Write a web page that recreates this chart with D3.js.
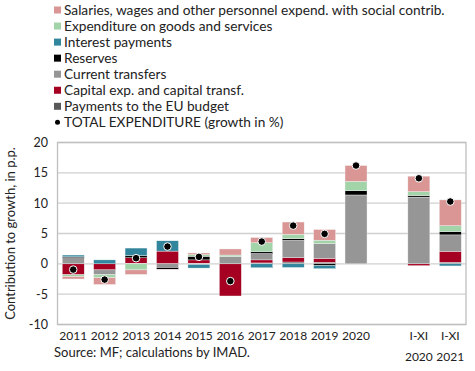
<!DOCTYPE html>
<html>
<head>
<meta charset="utf-8">
<script src="https://cdn.jsdelivr.net/npm/d3@7"></script>
<style>
  body { margin: 0; background: #fff; }
  svg { display: block; font-family: Lato, "Open Sans", sans-serif; }
</style>
</head>
<body>
<svg id="chart" width="475" height="371"></svg>
<script>
// data (contributions to growth, p.p.)
const categories = ["2011", "2012", "2013", "2014", "2015", "2016", "2017", "2018", "2019", "2020", "I-XI|2020", "I-XI|2021"];
const euBudget   = [0, 0, 0.1, 0, 0.1, 0, 0.15, 0.3, 0.25, 0, 0, 0.27];
const capital    = [-1.8, -1.0, 0.9, 2.1, 0.55, -5.3, 0.5, 0.72, 0.65, 0, -0.3, 1.8];
const transfers  = [1.0, -0.8, 0, -0.6, -0.1, 1.2, 1.05, 2.85, 2.45, 11.35, 11.0, 2.7];
const reserves   = [0.15, 0, 0.35, -0.3, 0.6, 0, 0.28, 0.27, -0.3, 0.7, 0.25, 0.52];
const interest   = [0.3, 0.65, 1.25, 1.7, -0.6, 0, -0.65, -0.6, -0.5, 0, 0, -0.35];
const goods      = [-0.3, -0.5, -1.0, 0, 0.27, 0.25, 1.5, 0.72, 0.55, 1.55, 0.65, 1.0];
const salaries   = [-0.4, -1.1, -0.75, -0.1, 0.27, 1.0, 0.85, 2.03, 1.75, 2.6, 2.55, 4.25];
const total      = [-0.95, -2.6, 0.93, 2.85, 1.15, -2.85, 3.67, 6.3, 4.94, 16.2, 14.1, 10.27];
const yTicks = [-10, -5, 0, 5, 10, 15, 20];

// series in stacking order (closest to zero first)
const series = [
  { key: "eu", label: "Payments to the EU budget", values: euBudget, color: "#595959" },
  { key: "capital", label: "Capital exp. and capital transf.", values: capital, color: "#A50021" },
  { key: "transfers", label: "Current transfers", values: transfers, color: "#969696" },
  { key: "reserves", label: "Reserves", values: reserves, color: "#000000" },
  { key: "interest", label: "Interest payments", values: interest, color: "#31859C" },
  { key: "goods", label: "Expenditure on goods and services", values: goods, color: "#A2D3A9" },
  { key: "salaries", label: "Salaries, wages and other personnel expend. with social contrib.", values: salaries, color: "#DA9694" }
];

const plot = { left: 57.5, right: 466, top: 142.5, bottom: 324.5 };

const table = categories.map((c, i) => {
  const row = { cat: c };
  series.forEach(s => row[s.key] = s.values[i]);
  return row;
});

const svg = d3.select("#chart");

// x: band scale with an empty slot before the I-XI bars
const domain = categories.slice(0, 10).concat(["gap"], categories.slice(10));
const x = d3.scaleBand()
  .domain(domain)
  .range([plot.left, plot.right])
  .paddingInner(0.3)
  .paddingOuter(0.15);

const y = d3.scaleLinear()
  .domain([-10, 20])
  .range([plot.bottom, plot.top]);

// gridlines
svg.append("g")
  .selectAll("line")
  .data(yTicks)
  .join("line")
    .attr("x1", plot.left)
    .attr("x2", plot.right)
    .attr("y1", d => y(d))
    .attr("y2", d => y(d))
    .attr("stroke", "#d0d0d0")
    .attr("stroke-width", 1.3);

// frame
svg.append("rect")
  .attr("x", plot.left)
  .attr("y", plot.top)
  .attr("width", plot.right - plot.left)
  .attr("height", plot.bottom - plot.top)
  .attr("fill", "none")
  .attr("stroke", "#bfbfbf")
  .attr("stroke-width", 1.3);

// stacked bars
const stacked = d3.stack()
  .keys(series.map(s => s.key))
  .offset(d3.stackOffsetDiverging)(table);

svg.append("g")
  .selectAll("g")
  .data(stacked)
  .join("g")
    .attr("fill", (d, i) => series[i].color)
  .selectAll("rect")
  .data(d => d)
  .join("rect")
    .attr("x", d => x(d.data.cat))
    .attr("width", x.bandwidth())
    .attr("y", d => y(Math.max(d[0], d[1])))
    .attr("height", d => Math.abs(y(d[0]) - y(d[1])))
    .attr("stroke", "#f4f4f4")
    .attr("stroke-width", 0.4);

// total expenditure dots
svg.append("g")
  .selectAll("circle")
  .data(categories)
  .join("circle")
    .attr("cx", d => x(d) + x.bandwidth() / 2)
    .attr("cy", (d, i) => y(total[i]))
    .attr("r", 3.8)
    .attr("fill", "#000")
    .attr("stroke", "#fff")
    .attr("stroke-width", 1);

// y axis labels
svg.append("g")
  .selectAll("text")
  .data(yTicks)
  .join("text")
    .attr("x", 48)
    .attr("y", d => y(d))
    .attr("dy", "0.35em")
    .attr("text-anchor", "end")
    .attr("font-size", 12.5)
    .attr("fill", "#222")
    .text(d => d);

svg.append("text")
  .attr("transform", `translate(15,${(plot.top + plot.bottom) / 2}) rotate(-90)`)
  .attr("text-anchor", "middle")
  .attr("font-size", 13)
  .attr("fill", "#222")
  .text("Contribution to growth, in p.p.");

// x labels
const xl = svg.append("g")
  .selectAll("text")
  .data(categories)
  .join("text")
    .attr("x", d => x(d) + x.bandwidth() / 2)
    .attr("y", 340)
    .attr("text-anchor", "middle")
    .attr("font-size", 12)
    .attr("fill", "#222");
xl.selectAll("tspan")
  .data(d => d.split("|"))
  .join("tspan")
    .attr("x", function () { return this.parentNode.getAttribute("x"); })
    .attr("dy", (d, i) => i ? 21 : 0)
    .text(d => d);

// source
svg.append("text")
  .attr("x", 54)
  .attr("y", 357)
  .attr("font-size", 13)
  .attr("fill", "#222")
  .text("Source: MF; calculations by IMAD.");

// legend (reverse of stacking order, then the dot)
const legendItems = series.slice().reverse();
const legend = svg.append("g");
legendItems.forEach((s, i) => {
  const cy = 10 + i * 16.05;
  legend.append("rect")
    .attr("x", 54)
    .attr("y", cy - 3.5)
    .attr("width", 7)
    .attr("height", 7)
    .attr("fill", s.color);
  legend.append("text")
    .attr("x", 64)
    .attr("y", cy)
    .attr("dy", "0.35em")
    .attr("font-size", 13.7)
    .attr("fill", "#222")
    .text(s.label);
});
const dotY = 10 + legendItems.length * 16.05;
legend.append("circle")
  .attr("cx", 57.5)
  .attr("cy", dotY)
  .attr("r", 2.5)
  .attr("fill", "#000");
legend.append("text")
  .attr("x", 64)
  .attr("y", dotY)
  .attr("dy", "0.35em")
  .attr("font-size", 13.7)
  .attr("fill", "#222")
  .text("TOTAL EXPENDITURE (growth in %)");
</script>
</body>
</html>
